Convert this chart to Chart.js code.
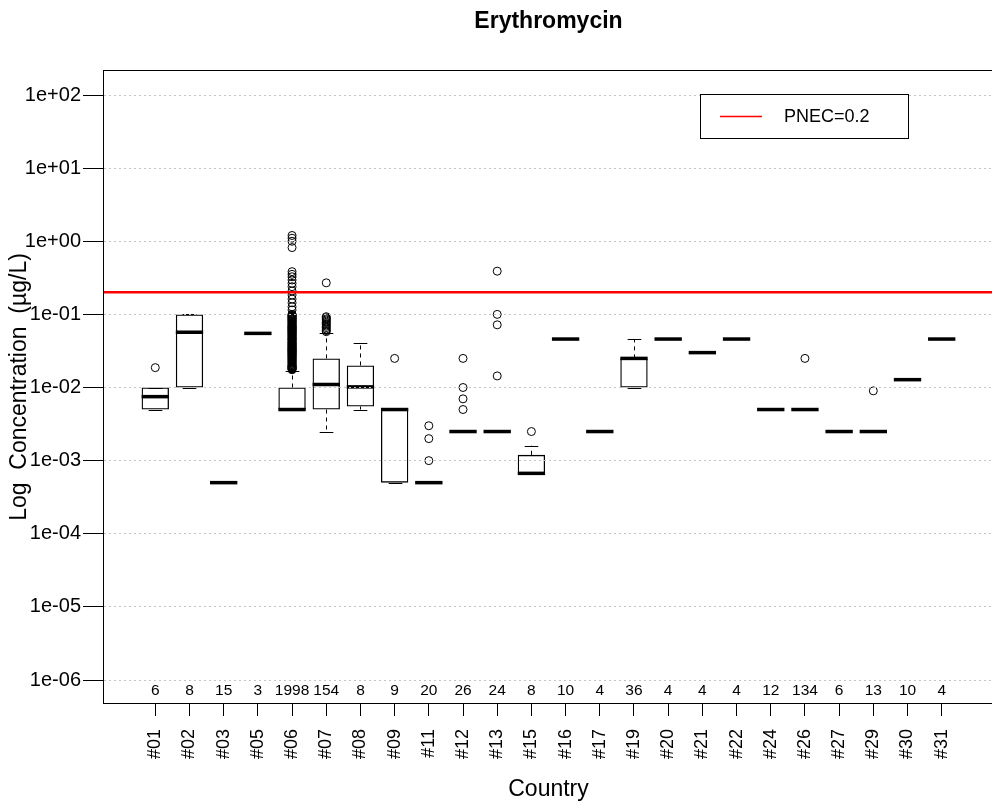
<!DOCTYPE html>
<html>
<head>
<meta charset="utf-8">
<script src="https://cdn.jsdelivr.net/npm/chart.js@4.4.0/dist/chart.umd.min.js"></script>
<style>
body { margin: 0; background: #fff; overflow: hidden; }
#wrap { width: 998px; height: 805px; }
</style>
</head>
<body>
<div id="wrap"><canvas id="myChart" width="998" height="805"></canvas></div>
<script>
// countries and number of samples
const countries = ['#01','#02','#03','#05','#06','#07','#08','#09','#11','#12','#13','#15',
                   '#16','#17','#19','#20','#21','#22','#24','#26','#27','#29','#30','#31'];
const counts = [6, 8, 15, 3, 1998, 154, 8, 9, 20, 26, 24, 8, 10, 4, 36, 4, 4, 4, 12, 134, 6, 13, 10, 4];

// box statistics (µg/L)
const whiskerLow  = [0.005, 0.01, 0.0005, 0.055, 0.005, 0.0025, 0.005, 0.0005, 0.0005, 0.0025, 0.0025, 0.00067,
                     0.046, 0.0025, 0.01, 0.046, 0.03, 0.046, 0.005, 0.005, 0.0025, 0.0025, 0.0128, 0.046];
const boxQ1       = [0.005, 0.01, 0.0005, 0.055, 0.005, 0.005, 0.0055, 0.0005, 0.0005, 0.0025, 0.0025, 0.00067,
                     0.046, 0.0025, 0.01, 0.046, 0.03, 0.046, 0.005, 0.005, 0.0025, 0.0025, 0.0128, 0.046];
const boxMedian   = [0.0075, 0.057, 0.0005, 0.055, 0.005, 0.011, 0.0102, 0.005, 0.0005, 0.0025, 0.0025, 0.00067,
                     0.046, 0.0025, 0.025, 0.046, 0.03, 0.046, 0.005, 0.005, 0.0025, 0.0025, 0.0128, 0.046];
const boxQ3       = [0.01, 0.1, 0.0005, 0.055, 0.01, 0.025, 0.02, 0.005, 0.0005, 0.0025, 0.0025, 0.0012,
                     0.046, 0.0025, 0.025, 0.046, 0.03, 0.046, 0.005, 0.005, 0.0025, 0.0025, 0.0128, 0.046];
const whiskerHigh = [0.01, 0.1, 0.0005, 0.055, 0.017, 0.055, 0.04, 0.005, 0.0005, 0.0025, 0.0025, 0.0016,
                     0.046, 0.0025, 0.046, 0.046, 0.03, 0.046, 0.005, 0.005, 0.0025, 0.0025, 0.0128, 0.046];
const outliers = [
  [0.0187], [], [], [],
  [1.2, 1.1, 1.0, 0.82, 0.384, 0.353, 0.327, 0.295, 0.266, 0.239, 0.209, 0.184, 0.162, 0.144, 0.127, 0.115,
   0.1, 0.0995, 0.097, 0.0955, 0.094, 0.0925, 0.091, 0.0895, 0.088, 0.0865, 0.085, 0.0835, 0.082, 0.0805,
   0.079, 0.0775, 0.076, 0.0745, 0.073, 0.0715, 0.07, 0.069, 0.068, 0.067, 0.066, 0.065, 0.064, 0.063,
   0.062, 0.061, 0.06, 0.059, 0.058, 0.057, 0.056, 0.055, 0.054, 0.053, 0.052, 0.051, 0.05, 0.049, 0.048,
   0.047, 0.0465, 0.0455, 0.045, 0.044, 0.043, 0.042, 0.0415, 0.041, 0.04, 0.0395, 0.0385, 0.038, 0.0375,
   0.037, 0.036, 0.0355, 0.035, 0.0345, 0.034, 0.0335, 0.033, 0.0325, 0.032, 0.0315, 0.031, 0.0305, 0.03,
   0.0295, 0.029, 0.0285, 0.028, 0.0275, 0.027, 0.0265, 0.026, 0.0255, 0.025, 0.0245, 0.024, 0.0235, 0.023,
   0.0225, 0.022, 0.0215, 0.021, 0.0205, 0.02, 0.0198, 0.0195, 0.0192, 0.019, 0.0188, 0.0185, 0.0182,
   0.018, 0.0178, 0.0175],
  [0.27, 0.093, 0.09, 0.087, 0.084, 0.081, 0.078, 0.075, 0.072, 0.069, 0.066, 0.063, 0.06, 0.058],
  [], [0.025], [0.003, 0.002, 0.001], [0.025, 0.01, 0.007, 0.005], [0.39, 0.1, 0.072, 0.0144], [0.0025],
  [], [], [], [], [], [], [], [0.025], [], [0.009], [], []
];
const pnec = 0.2;

const yTickValues = [1e-6, 1e-5, 1e-4, 1e-3, 1e-2, 1e-1, 1e0, 1e1, 1e2];
const yTickLabels = ['1e-06', '1e-05', '1e-04', '1e-03', '1e-02', '1e-01', '1e+00', '1e+01', '1e+02'];
const yMin = Math.pow(10, -6.328), yMax = Math.pow(10, 2.342);
const xMin = -0.5, xMax = 25.5;

const FONT = "'Liberation Sans', Arial, sans-serif";
Chart.defaults.font.family = FONT;
Chart.defaults.color = '#000';

const boxData = boxQ1.map((q1, i) => ({ x: i + 1, y: [q1, boxQ3[i]] }));
const outlierData = outliers.flatMap((arr, i) => arr.map(v => ({ x: i + 1, y: v })));

const boxParts = {
  id: 'boxParts',
  beforeDatasetsDraw(chart) {
    const { ctx, scales: { x, y } } = chart;
    const bars = chart.getDatasetMeta(2).data;
    ctx.save();
    ctx.strokeStyle = '#000';
    ctx.lineWidth = 1;
    countries.forEach((c, i) => {
      const px = Math.round(x.getPixelForValue(i + 1)) + 0.5;
      const half = bars[i].width / 4;
      ctx.setLineDash([4, 4]);
      ctx.beginPath();
      ctx.moveTo(px, y.getPixelForValue(boxQ3[i]));
      ctx.lineTo(px, y.getPixelForValue(whiskerHigh[i]));
      ctx.moveTo(px, y.getPixelForValue(boxQ1[i]));
      ctx.lineTo(px, y.getPixelForValue(whiskerLow[i]));
      ctx.stroke();
      ctx.setLineDash([]);
      ctx.beginPath();
      [whiskerHigh[i], whiskerLow[i]].forEach(v => {
        const py = Math.round(y.getPixelForValue(v)) + 0.5;
        ctx.moveTo(px - half, py);
        ctx.lineTo(px + half, py);
      });
      ctx.stroke();
    });
    ctx.restore();
  },
  afterDatasetDraw(chart, args) {
    if (args.index !== 2) return;
    const { ctx, scales: { x, y } } = chart;
    const bars = chart.getDatasetMeta(2).data;
    ctx.save();
    ctx.strokeStyle = '#000';
    ctx.lineWidth = 3.5;
    ctx.lineCap = 'butt';
    boxMedian.forEach((m, i) => {
      const px = x.getPixelForValue(i + 1);
      const py = y.getPixelForValue(m);
      const w = bars[i].width / 2;
      ctx.beginPath();
      ctx.moveTo(px - w, py);
      ctx.lineTo(px + w, py);
      ctx.stroke();
    });
    ctx.restore();
  },
  afterDraw(chart) {
    const { ctx, chartArea: a, scales: { x } } = chart;
    ctx.save();
    // frame
    ctx.strokeStyle = '#000';
    ctx.lineWidth = 1;
    ctx.strokeRect(a.left - 0.5, a.top + 0.5, a.right - a.left, a.bottom - a.top - 1);
    // title
    ctx.fillStyle = '#000';
    ctx.font = 'bold 23px ' + FONT;
    ctx.textAlign = 'center';
    ctx.textBaseline = 'middle';
    ctx.fillText('Erythromycin', (a.left + a.right) / 2, 22);
    // sample counts
    ctx.font = '15.5px ' + FONT;
    counts.forEach((n, i) => {
      ctx.fillText(String(n), x.getPixelForValue(i + 1), a.bottom - 13);
    });
    // legend
    const lx = 700, ly = 94, lw = 208, lh = 44;
    ctx.fillStyle = '#fff';
    ctx.fillRect(lx, ly, lw, lh);
    ctx.strokeStyle = '#000';
    ctx.strokeRect(lx + 0.5, ly + 0.5, lw, lh);
    ctx.strokeStyle = '#ff0000';
    ctx.lineWidth = 1.5;
    ctx.beginPath();
    ctx.moveTo(lx + 20, ly + 22.5);
    ctx.lineTo(lx + 62, ly + 22.5);
    ctx.stroke();
    ctx.fillStyle = '#000';
    ctx.font = '18px ' + FONT;
    ctx.textAlign = 'left';
    ctx.fillText(chart.data.datasets[0].label, lx + 84, ly + 23);
    ctx.restore();
  }
};

new Chart(document.getElementById('myChart'), {
  type: 'bar',
  data: {
    datasets: [
      {
        type: 'line', label: 'PNEC=' + pnec, order: 0,
        data: [{ x: xMin, y: pnec }, { x: xMax, y: pnec }],
        borderColor: '#ff0000', borderWidth: 2.5, pointRadius: 0, fill: false
      },
      {
        type: 'scatter', label: 'outliers', order: 1,
        data: outlierData,
        pointStyle: 'circle', pointRadius: 4, borderWidth: 1,
        borderColor: '#000', backgroundColor: 'rgba(0,0,0,0)'
      },
      {
        type: 'bar', label: 'box', order: 2,
        data: boxData,
        backgroundColor: 'rgba(0,0,0,0)', borderColor: '#000', borderWidth: 1.3,
        borderSkipped: false, barPercentage: 0.8, categoryPercentage: 1
      }
    ]
  },
  options: {
    responsive: false,
    animation: false,
    devicePixelRatio: 1,
    layout: { padding: { top: 70, left: 0, right: 0, bottom: 0 } },
    plugins: { legend: { display: false }, tooltip: { enabled: false }, title: { display: false } },
    scales: {
      x: {
        type: 'linear', min: xMin, max: xMax, bounds: 'data', offset: false,
        afterBuildTicks(scale) { scale.ticks = countries.map((c, i) => ({ value: i + 1 })); },
        afterFit(scale) { scale.height = 101; },
        ticks: {
          autoSkip: false, minRotation: 90, maxRotation: 90, padding: 13,
          font: { size: 18 }, color: '#000',
          callback: (v) => countries[v - 1]
        },
        grid: { drawOnChartArea: false, offset: false, tickLength: 12, tickColor: '#000', tickWidth: 1 },
        border: { display: false },
        title: { display: true, text: 'Country', font: { size: 23 }, color: '#000', padding: { top: 0, bottom: 2 } }
      },
      y: {
        type: 'logarithmic', min: yMin, max: yMax, bounds: 'data',
        afterBuildTicks(scale) { scale.ticks = yTickValues.map(v => ({ value: v })); },
        afterFit(scale) { scale.width = 104; },
        ticks: {
          autoSkip: false, padding: 2, font: { size: 20 }, color: '#000',
          callback: (v, i) => yTickLabels[i]
        },
        grid: { z: 1, color: '#c4c4c4', lineWidth: 1, tickLength: 21, tickColor: '#000', tickWidth: 1, tickBorderDash: [] },
        border: { display: false, dash: [2, 3] },
        title: { display: true, text: 'Log  Concentration  (µg/L)', font: { size: 23 }, color: '#000', padding: { top: 6, bottom: 0 } }
      }
    }
  },
  plugins: [boxParts]
});
</script>
</body>
</html>
